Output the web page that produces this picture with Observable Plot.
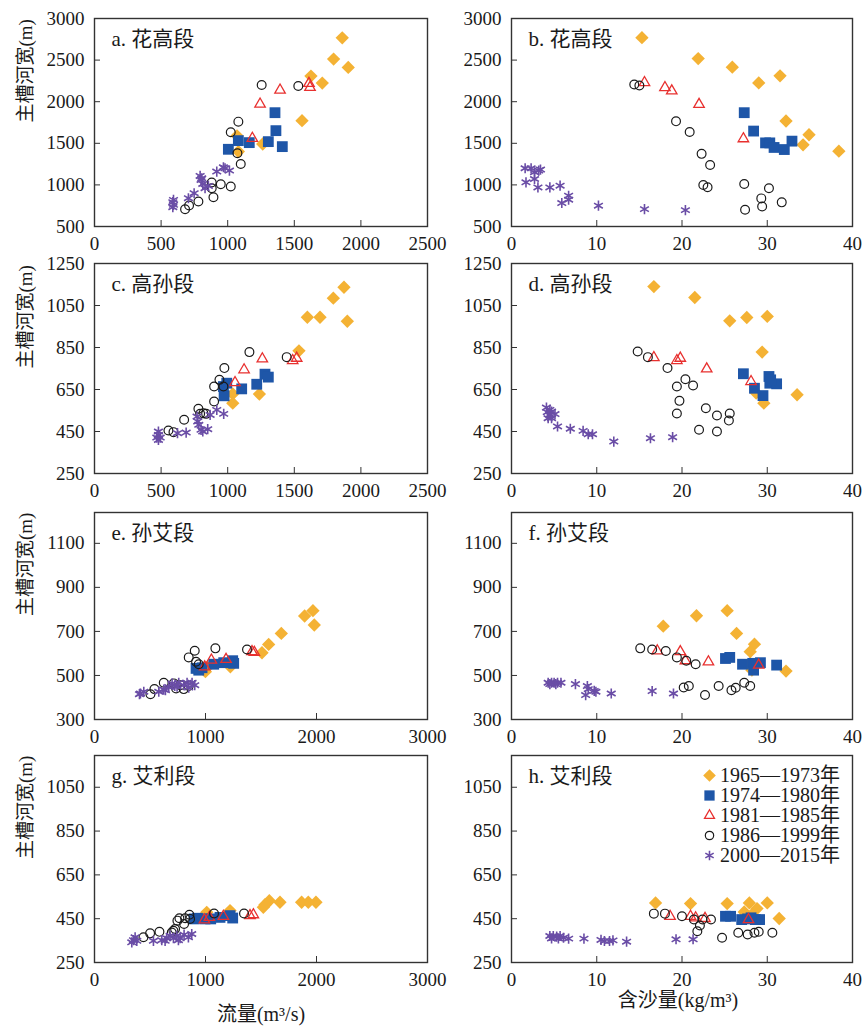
<!DOCTYPE html>
<html><head><meta charset="utf-8">
<script src="https://cdn.jsdelivr.net/npm/d3@7"></script>
<script src="https://cdn.jsdelivr.net/npm/@observablehq/plot@0.6"></script>
<style>
body{margin:0;background:#fff;}
#chart{position:relative;width:868px;height:1026px;overflow:hidden;font-family:"Liberation Serif","Noto Sans CJK SC",serif;color:#1a1a1a;}
#chart > svg{position:absolute;}
.xlab{position:absolute;font-size:20px;white-space:nowrap;transform:translate(-50%,-50%);}
.legend{position:absolute;left:701px;top:765px;font-size:20px;line-height:20px;}
.legend .row{display:flex;align-items:center;height:20px;white-space:nowrap;}
.legend svg{position:static;margin-right:3px;}
</style></head><body><div id="chart"></div><script>
// ---- series names / styles ----
const periods = ["1965—1973年","1974—1980年","1981—1985年","1986—1999年","2000—2015年"];
const symbolNames = ["diamond2","square","triangle2","circle","asterisk"];
const fills = ["#F4B234","#1E56A8","none","none","none"];
const strokes = ["none","none","#E8302F","#1a1a1a","#6A4DA6"];
const radii = [6, 6.1, 5, 4.4, 4.8];
const strokeWidths = [0, 0, 1.3, 1.2, 1.6];

// ---- tick values ----
const xTicksQ1 = [0,500,1000,1500,2000,2500];
const xTicksQ2 = [0,1000,2000,3000];
const xTicksS = [0,10,20,30,40];
const yTicksA = [500,1000,1500,2000,2500,3000];
const yTicksC = [250,450,650,850,1050,1250];
const yTicksE = [300,500,700,900,1100];
const yTicksG = [250,450,650,850,1050];

// ---- panel a: 花高段, 流量 vs 河宽 ----
const a1 = [[1860,2768],[1795,2512],[1905,2412],[1625,2308],[1710,2224],[1558,1772],[1263,1492],[1070,1590],[1080,1400]];
const a2 = [[1355,1868],[1362,1652],[1005,1428],[1080,1532],[1162,1508],[1305,1520],[1410,1460]];
const a3 = [[1243,1972],[1393,2140],[1185,1560],[1610,2220],[1618,2172]];
const a4 = [[1255,2200],[1530,2188],[1080,1760],[1023,1632],[1073,1380],[1098,1252],[880,1028],[948,1008],[1023,980],[893,852],[780,800],[710,752],[680,708],[880,960]];
const a5 = [[588,792],[588,732],[593,760],[705,840],[748,900],[793,1108],[800,1060],[813,1012],[830,960],[855,988],[918,1160],[968,1212],[1013,1172],[980,1200],[805,1080],[593,820]];
// ---- panel b: 花高段, 含沙量 vs 河宽 ----
const b1 = [[15.3,2770],[21.9,2518],[25.9,2415],[29.0,2226],[31.5,2311],[32.2,1768],[34.9,1603],[34.2,1482],[38.4,1405]];
const b2 = [[27.3,1868],[28.4,1647],[29.8,1505],[30.3,1505],[30.8,1450],[32.0,1425],[32.9,1526]];
const b3 = [[15.6,2230],[18.0,2170],[18.8,2130],[22.0,1968],[27.2,1555]];
const b4 = [[14.4,2206],[15.0,2194],[19.3,1764],[20.9,1635],[22.3,1373],[23.3,1240],[22.5,999],[23.0,971],[27.3,1011],[30.2,959],[29.3,838],[29.4,741],[31.7,790],[27.4,701]];
const b5 = [[1.6,1200],[2.3,1200],[3.4,1184],[2.7,1152],[3.2,1172],[1.7,1031],[2.7,1071],[3.1,970],[4.5,970],[5.7,991],[5.9,782],[6.7,870],[6.7,822],[10.2,750],[15.6,709],[20.4,697]];
// ---- panel c: 高孙段 ----
const c1 = [[1873,1137],[1793,1085],[1598,994],[1693,994],[1898,975],[1535,834],[1238,628],[1038,629],[1038,585]];
const c2 = [[993,680],[973,620],[1105,653],[1218,675],[1280,723],[1305,709],[968,664]];
const c3 = [[1260,796],[1123,744],[1055,683],[1488,788],[1518,799]];
const c4 = [[1163,828],[1443,804],[975,752],[938,696],[898,664],[968,664],[898,593],[780,558],[793,534],[838,534],[673,506],[555,455],[593,447],[818,537]];
const c5 = [[480,434],[480,410],[468,421],[493,421],[623,442],[688,445],[770,521],[775,498],[800,458],[850,461],[868,529],[918,553],[970,534],[783,482],[480,450],[813,450]];
// ---- panel d: 高孙段 ----
const d1 = [[16.7,1140],[21.5,1088],[25.6,977],[27.6,993],[30.0,998],[29.4,828],[33.5,625],[28.7,633],[29.6,585]];
const d2 = [[27.2,725],[28.5,656],[29.5,621],[30.2,712],[30.3,680],[31.1,677],[30.4,696]];
const d3 = [[16.7,802],[19.4,788],[19.8,799],[22.9,748],[28.1,688]];
const d4 = [[14.8,831],[16.0,804],[18.3,752],[20.4,699],[21.3,669],[19.4,664],[19.7,596],[19.4,536],[22.8,561],[24.1,526],[25.6,536],[25.5,502],[22.0,458],[24.1,450]];
const d5 = [[4.1,564],[4.2,542],[4.5,529],[4.7,545],[5.1,533],[4.3,513],[4.7,513],[5.4,474],[6.9,463],[8.4,453],[9.0,437],[9.5,437],[12.0,402],[16.3,418],[18.9,423],[4.5,553]];
// ---- panel e: 孙艾段 ----
const e1 = [[1968,794],[1893,770],[1980,729],[1683,691],[1569,641],[1509,603],[1224,539],[999,517],[1014,536]];
const e2 = [[915,532],[969,535],[1074,551],[1164,558],[1245,567],[1254,555],[939,524]];
const e3 = [[993,539],[1053,570],[1185,573],[1419,608],[1440,605]];
const e4 = [[903,612],[849,582],[915,562],[939,551],[1089,623],[1374,618],[624,467],[540,438],[504,415],[735,441],[804,438],[849,452],[714,464],[774,456]];
const e5 = [[414,418],[444,426],[579,426],[639,433],[699,464],[723,452],[759,467],[804,456],[834,467],[879,467],[903,456],[669,448],[405,415],[744,449],[849,445],[624,436]];
// ---- panel f: 孙艾段 ----
const f1 = [[17.8,724],[21.7,771],[25.3,794],[26.4,691],[28.5,642],[28.0,608],[32.2,520],[28.2,524],[28.0,555]];
const f2 = [[25.1,577],[25.6,582],[27.1,551],[28.3,555],[28.4,524],[29.2,558],[31.1,547]];
const f3 = [[17.1,612],[19.8,608],[20.4,567],[23.1,562],[29.0,547]];
const f4 = [[15.1,623],[16.5,618],[18.1,611],[19.4,582],[20.5,567],[21.6,551],[20.2,445],[20.8,452],[22.7,411],[24.3,452],[25.8,433],[26.3,444],[27.3,467],[28.0,452]];
const f5 = [[4.3,467],[4.7,467],[5.0,467],[5.4,467],[5.8,467],[7.5,461],[8.9,452],[9.0,438],[8.7,411],[9.7,430],[9.9,426],[11.7,418],[16.5,429],[19.0,418],[4.5,461],[5.2,461]];
// ---- panel g: 艾利段 ----
const g1 = [[1995,525],[1926,525],[1866,525],[1671,525],[1575,532],[1521,502],[1221,487],[1011,479],[1536,514]];
const g2 = [[927,452],[996,449],[1047,449],[1131,456],[1221,464],[1245,453],[897,449]];
const g3 = [[990,445],[1035,456],[1161,461],[1401,464],[1431,468]];
const g4 = [[765,452],[816,452],[855,468],[1077,474],[1347,474],[807,426],[726,403],[696,387],[585,390],[501,383],[441,365],[861,449],[747,441],[711,395]];
const g5 = [[351,352],[381,349],[366,365],[531,349],[606,352],[651,361],[681,372],[711,361],[741,372],[771,361],[807,377],[846,365],[876,380],[636,349],[756,352],[336,342]];
// ---- panel h: 艾利段 ----
const h1 = [[16.9,522],[21.0,519],[25.3,519],[27.9,522],[30.0,522],[31.4,451],[28.8,496],[27.3,481],[28.2,469]];
const h2 = [[25.1,461],[25.7,461],[27.0,446],[27.7,449],[28.6,446],[29.1,446],[28.1,454]];
const h3 = [[18.6,461],[21.0,461],[21.6,454],[22.7,451],[27.8,446]];
const h4 = [[16.7,473],[18.0,473],[20.0,461],[21.4,446],[22.4,446],[23.4,446],[22.1,419],[21.8,393],[24.7,363],[26.6,386],[27.7,378],[28.5,386],[29.0,390],[30.6,386]];
const h5 = [[4.5,371],[4.9,371],[5.3,368],[5.7,371],[6.1,363],[4.7,360],[5.5,360],[6.7,359],[8.5,359],[10.5,353],[10.9,348],[11.5,348],[11.9,351],[13.5,345],[19.3,356],[21.3,356]];

const yLabel = "主槽河宽(m)";
const container = document.getElementById("chart");
const FONT = '"Liberation Serif","Noto Sans CJK SC",serif';

function makePanel(p) {
  const mt = 20, mb = 36;
  const ml = p.col === 0 ? 94 : 80, fw = p.col === 0 ? 333 : 341, mr = 12;
  const marks = [];
  p.series.forEach((arr, k) => {
    marks.push(Plot.dot(arr, {x: d => d[0], y: d => d[1], symbol: symbolNames[k], r: radii[k],
      fill: fills[k], stroke: strokes[k], strokeWidth: strokeWidths[k]}));
  });
  marks.push(Plot.frame({stroke: "#333", strokeWidth: 1.4}));
  marks.push(Plot.axisX({ticks: p.xTicks, tickSize: -6, tickPadding: 16, fontSize: 19, label: null, tickFormat: d => String(d), stroke: "#333"}));
  marks.push(Plot.axisY({ticks: p.yTicks, tickSize: -6, tickPadding: 16, fontSize: 19, label: null, tickFormat: d => String(d), stroke: "#333"}));
  marks.push(Plot.text([p.title], {text: d => d, frameAnchor: "top-left", dx: 17, dy: 21, textAnchor: "start", lineAnchor: "middle", fontSize: 21, fill: "#1a1a1a"}));
  if (p.col === 0) marks.push(Plot.text([yLabel], {text: d => d, frameAnchor: "left", rotate: -90, dx: -69, fontSize: 19, fill: "#1a1a1a"}));
  const svg = Plot.plot({
    width: ml + fw + mr, height: mt + p.fh + mb,
    marginLeft: ml, marginRight: mr, marginTop: mt, marginBottom: mb,
    x: {domain: p.xDomain}, y: {domain: p.yDomain},
    style: {fontFamily: FONT, fontSize: "19px", color: "#1a1a1a", background: "transparent", overflow: "visible"},
    marks
  });
  svg.style.left = (p.col === 0 ? 0 : 431) + "px";
  svg.style.top = (p.top - mt) + "px";
  svg.style.maxWidth = "none";
  container.append(svg);
}

const rowTops = [18, 263, 512, 755];
const rowH = [208, 210, 207, 207];
makePanel({col:0, top:rowTops[0], fh:rowH[0], title:"a. 花高段", xDomain:[0,2500], xTicks:xTicksQ1, yDomain:[500,3000], yTicks:yTicksA, series:[a1,a2,a3,a4,a5]});
makePanel({col:1, top:rowTops[0], fh:rowH[0], title:"b. 花高段", xDomain:[0,40], xTicks:xTicksS, yDomain:[500,3000], yTicks:yTicksA, series:[b1,b2,b3,b4,b5]});
makePanel({col:0, top:rowTops[1], fh:rowH[1], title:"c. 高孙段", xDomain:[0,2500], xTicks:xTicksQ1, yDomain:[250,1250], yTicks:yTicksC, series:[c1,c2,c3,c4,c5]});
makePanel({col:1, top:rowTops[1], fh:rowH[1], title:"d. 高孙段", xDomain:[0,40], xTicks:xTicksS, yDomain:[250,1250], yTicks:yTicksC, series:[d1,d2,d3,d4,d5]});
makePanel({col:0, top:rowTops[2], fh:rowH[2], title:"e. 孙艾段", xDomain:[0,3000], xTicks:xTicksQ2, yDomain:[300,1240], yTicks:yTicksE, series:[e1,e2,e3,e4,e5]});
makePanel({col:1, top:rowTops[2], fh:rowH[2], title:"f. 孙艾段", xDomain:[0,40], xTicks:xTicksS, yDomain:[300,1240], yTicks:yTicksE, series:[f1,f2,f3,f4,f5]});
makePanel({col:0, top:rowTops[3], fh:rowH[3], title:"g. 艾利段", xDomain:[0,3000], xTicks:xTicksQ2, yDomain:[250,1195], yTicks:yTicksG, series:[g1,g2,g3,g4,g5]});
makePanel({col:1, top:rowTops[3], fh:rowH[3], title:"h. 艾利段", xDomain:[0,40], xTicks:xTicksS, yDomain:[250,1195], yTicks:yTicksG, series:[h1,h2,h3,h4,h5]});

// bottom axis titles
function addLabel(text, cx, cy) {
  const d = document.createElement("div");
  d.className = "xlab"; d.textContent = text;
  d.style.left = cx + "px"; d.style.top = cy + "px";
  container.append(d);
}
addLabel("流量(m³/s)", 261, 1012);
addLabel("含沙量(kg/m³)", 678, 998);

// legend (panel h): each swatch drawn by a tiny Plot with the same symbol styling
const legend = document.createElement("div");
legend.className = "legend";
periods.forEach((name, k) => {
  const row = document.createElement("div");
  row.className = "row";
  const sw = Plot.plot({
    width: 16, height: 20, margin: 0, axis: null,
    x: {domain: [0, 1]}, y: {domain: [0, 1]},
    style: {background: "transparent", overflow: "visible"},
    marks: [Plot.dot([name], {frameAnchor: "middle", symbol: symbolNames[k], r: radii[k] * 0.95,
      fill: fills[k], stroke: strokes[k], strokeWidth: strokeWidths[k]})]
  });
  sw.style.maxWidth = "none";
  row.append(sw);
  const t = document.createElement("span");
  t.textContent = name;
  row.append(t);
  legend.append(row);
});
container.append(legend);
</script></body></html>
